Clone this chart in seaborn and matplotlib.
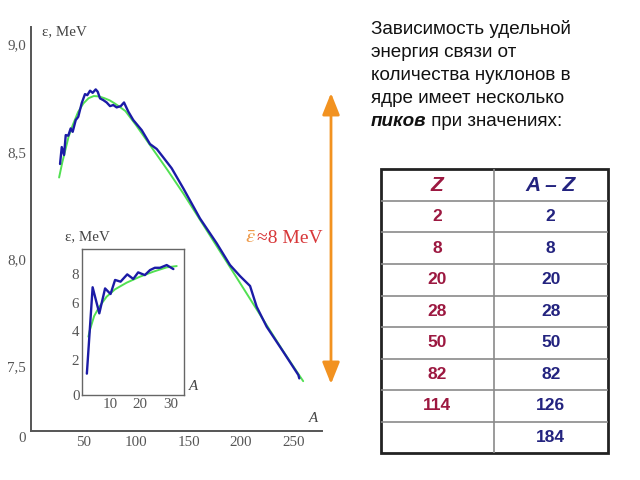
import matplotlib
matplotlib.use("Agg")
import matplotlib.pyplot as plt
import seaborn as sns
import pandas as pd
from matplotlib.ticker import FixedLocator, FuncFormatter
from matplotlib.patches import Rectangle

# ---------------- data ----------------
main_A = [27.9, 29.5, 31.7, 33.3, 35.7, 38.0, 39.9, 42.8, 45.2, 48.5, 51.6, 53.8, 56.4, 58.9,
          61.8, 63.7, 65.9, 69.0, 72.2, 75.4, 78.5, 81.7, 85.6, 88.7, 92.8, 97.5, 105.5, 113.4,
          119.8, 126.0, 134.0, 145.1, 160.9, 176.8, 189.4, 199.0, 208.5, 214.8, 224.3, 240.1,
          254.4, 255.3]
main_eps = [8.443, 8.522, 8.485, 8.578, 8.575, 8.609, 8.593, 8.648, 8.663, 8.727, 8.769, 8.764,
            8.785, 8.775, 8.791, 8.780, 8.749, 8.741, 8.730, 8.713, 8.718, 8.707, 8.713, 8.730,
            8.687, 8.648, 8.601, 8.536, 8.513, 8.474, 8.423, 8.329, 8.189, 8.073, 7.972, 7.920,
            7.874, 7.777, 7.684, 7.567, 7.459, 7.443]

fit_A = [27, 30, 33, 36, 40, 45, 50, 55, 60, 65, 70, 75, 80, 85, 90, 100, 110, 120, 130, 145,
         160, 180, 200, 218, 240, 259]
fit_eps = [8.38, 8.45, 8.51, 8.57, 8.625, 8.685, 8.725, 8.75, 8.76, 8.758, 8.75, 8.74, 8.725,
           8.708, 8.69, 8.625, 8.555, 8.485, 8.415, 8.306, 8.19, 8.035, 7.88, 7.74, 7.57, 7.43]

inset_A = [2.4, 4.3, 6.5, 8.4, 10.2, 11.7, 13.5, 15.7, 17.7, 19.3, 21.5, 23.2, 24.8, 26.5, 28.7, 30.9]
inset_eps = [1.05, 7.08, 5.26, 7.0, 6.61, 7.59, 7.47, 7.98, 7.66, 8.12, 7.93, 8.28, 8.44, 8.44, 8.63, 8.35]

inset_fit_A = [2.9, 3.4, 4.8, 6.5, 8.9, 11.7, 15.5, 19.9, 24.3, 28.7, 32.0]
inset_fit_eps = [3.63, 4.1, 5.07, 5.72, 6.42, 6.94, 7.40, 7.82, 8.17, 8.47, 8.56]

main_xticks = [50, 100, 150, 200, 250]
main_yticks = [7.5, 8.0, 8.5, 9.0]
main_yminor = [7.3, 7.4, 7.6, 7.7, 7.8, 7.9, 8.1, 8.2, 8.3, 8.4, 8.6, 8.7, 8.8, 8.9]
inset_xticks = [10, 20, 30]
inset_yticks = [2, 4, 6, 8]
inset_yminor = [1, 3, 5, 7, 9]

table_header = ["Z", "A – Z"]
z_values = ["2", "8", "20", "28", "50", "82", "114", ""]
n_values = ["2", "8", "20", "28", "50", "82", "126", "184"]

intro_lines = ["Зависимость удельной", "энергия связи от", "количества нуклонов в",
               "ядре имеет несколько"]
intro_bold = "пиков"
intro_tail = " при значениях:"

# ---------------- style ----------------
sns.set_style("white")
plt.rcParams["font.family"] = ["Liberation Serif", "DejaVu Serif"]
plt.rcParams["mathtext.fontset"] = "stix"

W, H = 640, 480
fig = plt.figure(figsize=(6.4, 4.8), dpi=100)
fig.patch.set_facecolor("white")


def px_axes(l, t, r, b):
    return fig.add_axes([l / W, 1 - b / H, (r - l) / W, (b - t) / H])


AXC = "#555555"
BLUE = "#1b1ba6"
GREEN = "#52e052"
LBL = 10.8
comma = FuncFormatter(lambda v, p: f"{v:.1f}".replace(".", ","))

# ---------------- main chart ----------------
ax = px_axes(30.7, 27, 321.7, 430.7)
ax.set_facecolor("none")
sns.lineplot(data=pd.DataFrame({"A": fit_A, "e": fit_eps}), x="A", y="e", ax=ax,
             color=GREEN, lw=1.4, sort=False)
sns.lineplot(data=pd.DataFrame({"A": main_A, "e": main_eps}), x="A", y="e", ax=ax,
             color=BLUE, lw=1.7, sort=False)
ax.set_xlim(0, 276.6)
ax.set_ylim(7.199, 9.082)
for s in ["top", "right"]:
    ax.spines[s].set_visible(False)
for s in ["left", "bottom"]:
    ax.spines[s].set_color(AXC)
    ax.spines[s].set_linewidth(1.4)
ax.xaxis.set_major_locator(FixedLocator(main_xticks))
ax.yaxis.set_major_locator(FixedLocator(main_yticks))
ax.yaxis.set_minor_locator(FixedLocator(main_yminor))
ax.yaxis.set_major_formatter(comma)
ax.tick_params(which="both", direction="in", color=AXC, width=1.0, labelcolor="#555555",
               labelsize=LBL)
ax.tick_params(which="major", length=5)
ax.tick_params(which="minor", length=4)
ax.tick_params(axis="y", pad=3.5)
ax.tick_params(axis="x", pad=4)
ax.set_xlabel("")
ax.set_ylabel("")
fig.text(22 / W, 1 - 439 / H, "0", fontsize=LBL, color="#555555", ha="center", va="center")
fig.text(42 / W, 1 - 31.5 / H, "ε, MeV", fontsize=LBL, color="#444444", ha="left", va="center")
fig.text(313 / W, 1 - 419 / H, "A", fontsize=LBL, color="#444444", style="italic",
         ha="center", va="center")

# ---------------- inset ----------------
ax2 = px_axes(81.7, 249.3, 184, 395)
ax2.set_facecolor("white")
sns.lineplot(data=pd.DataFrame({"A": inset_fit_A, "e": inset_fit_eps}), x="A", y="e", ax=ax2,
             color=GREEN, lw=1.4, sort=False)
sns.lineplot(data=pd.DataFrame({"A": inset_A, "e": inset_eps}), x="A", y="e", ax=ax2,
             color=BLUE, lw=1.7, sort=False)
ax2.set_xlim(0.7, 34.4)
ax2.set_ylim(-0.44, 9.73)
for s in ax2.spines.values():
    s.set_color("#666666")
    s.set_linewidth(1.0)
ax2.xaxis.set_major_locator(FixedLocator(inset_xticks))
ax2.yaxis.set_major_locator(FixedLocator(inset_yticks))
ax2.yaxis.set_minor_locator(FixedLocator(inset_yminor))
ax2.tick_params(which="both", direction="in", color="#666666", labelcolor="#555555",
                labelsize=LBL, width=0.9)
ax2.tick_params(which="major", length=4)
ax2.tick_params(which="minor", length=3)
ax2.tick_params(axis="y", pad=2)
ax2.tick_params(axis="x", pad=2)
ax2.set_xlabel("")
ax2.set_ylabel("")
fig.text(76 / W, 1 - 397 / H, "0", fontsize=LBL, color="#555555", ha="center", va="center")
fig.text(65 / W, 1 - 237 / H, "ε, MeV", fontsize=LBL, color="#444444", ha="left", va="center")
fig.text(193 / W, 1 - 387 / H, "A", fontsize=LBL, color="#444444", style="italic",
         ha="center", va="center")

# ---------------- arrow & mean label ----------------
ax.annotate("", xy=(331, H - 384), xytext=(331, H - 93), xycoords="figure pixels",
            textcoords="figure pixels", annotation_clip=False,
            arrowprops=dict(arrowstyle="<|-|>,head_length=0.55,head_width=0.22",
                            mutation_scale=24, color="#f29220", lw=2.0,
                            shrinkA=0, shrinkB=0))
t_eps = fig.text(245 / W, 1 - 243 / H, r"$\bar{\varepsilon}$", fontsize=15, color="#ee9a4a",
                 ha="left", va="baseline")
fig.canvas.draw()
bb = t_eps.get_window_extent()
fig.text((bb.x1 + 1) / W, 1 - 243 / H, "≈8 MeV", fontsize=14, color="#d8383a",
         ha="left", va="baseline", family=["Liberation Serif", "DejaVu Serif"])

# ---------------- intro text ----------------
SANS = ["Liberation Sans", "DejaVu Sans"]
FS = 13.6
x0 = 371 / W
base = 34
step = 23.0
for i, line in enumerate(intro_lines):
    fig.text(x0, 1 - (base + i * step) / H, line, fontsize=FS, color="#111111",
             family=SANS, ha="left", va="baseline")
yb = 1 - (base + 4 * step) / H
tb = fig.text(x0, yb, intro_bold, fontsize=FS, color="#111111", family=SANS,
              weight="bold", style="italic", ha="left", va="baseline")
fig.canvas.draw()
bb2 = tb.get_window_extent()
fig.text(bb2.x1 / W, yb, intro_tail, fontsize=FS, color="#111111", family=SANS,
         ha="left", va="baseline")

# ---------------- table ----------------
nrows = len(z_values) + 1
tax = px_axes(380.5, 169.3, 607.5, 453.3)
tax.set_xlim(0, 2)
tax.set_ylim(nrows, 0)
tax.axis("off")
for i in range(1, nrows):
    tax.plot([0, 2], [i, i], color="#8a8a8a", lw=1.2, solid_capstyle="butt")
tax.plot([1, 1], [0, nrows], color="#8a8a8a", lw=1.2, solid_capstyle="butt")
tax.add_patch(Rectangle((0, 0), 2, nrows, fill=False, ec="#222222", lw=2.0, clip_on=False))
RED = "#9c1840"
NAVY = "#23237f"
tax.text(0.5, 0.5, table_header[0], color=RED, fontsize=15, weight="bold", style="italic",
         family=SANS, ha="center", va="center")
tax.text(1.5, 0.5, table_header[1], color=NAVY, fontsize=15, weight="bold", style="italic",
         family=SANS, ha="center", va="center")
for i, (zv, nv) in enumerate(zip(z_values, n_values)):
    tax.text(0.5, i + 1.5, zv, color=RED, fontsize=12.5, weight="bold", family=SANS,
             ha="center", va="center")
    tax.text(1.5, i + 1.5, nv, color=NAVY, fontsize=12.5, weight="bold", family=SANS,
             ha="center", va="center")

fig.savefig("out.png", dpi=100, facecolor="white")
